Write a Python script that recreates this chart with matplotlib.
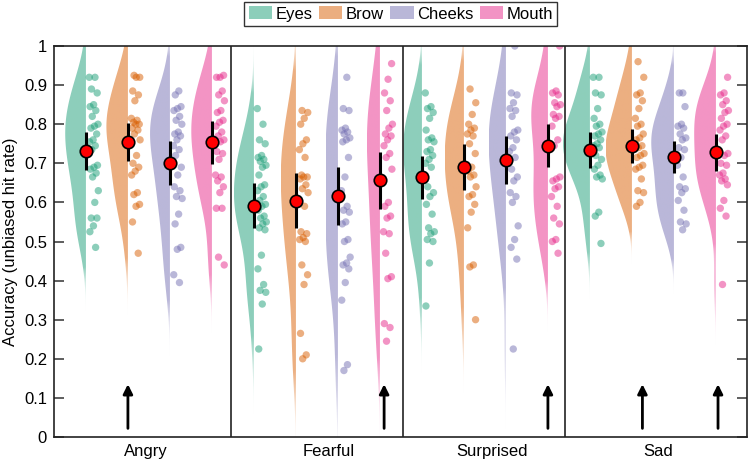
import numpy as np
import matplotlib
matplotlib.use("Agg")
import matplotlib.pyplot as plt
from matplotlib.patches import Polygon, Patch
from matplotlib.colors import to_rgb

plt.rcParams['font.family'] = ['Liberation Sans', 'DejaVu Sans']

# --- DATA ---
emotions = ['Angry', 'Fearful', 'Surprised', 'Sad']
regions = ['Eyes', 'Brow', 'Cheeks', 'Mouth']
colors = ['#1b9e77', '#d95f02', '#7570b3', '#e7298a']

angry = [
    [0.92, 0.92, 0.89, 0.88, 0.85, 0.845, 0.835, 0.82, 0.80, 0.795, 0.79, 0.775, 0.76, 0.755,
     0.745, 0.735, 0.695, 0.69, 0.685, 0.675, 0.665, 0.63, 0.60, 0.56, 0.56, 0.54, 0.525, 0.485],
    [0.925, 0.92, 0.92, 0.885, 0.875, 0.86, 0.815, 0.81, 0.805, 0.80, 0.80, 0.79, 0.785, 0.775,
     0.76, 0.72, 0.70, 0.69, 0.68, 0.67, 0.625, 0.62, 0.595, 0.59, 0.55, 0.47],
    [0.885, 0.875, 0.845, 0.84, 0.835, 0.82, 0.81, 0.80, 0.78, 0.775, 0.77, 0.76, 0.745, 0.735,
     0.72, 0.69, 0.67, 0.64, 0.63, 0.615, 0.61, 0.57, 0.545, 0.485, 0.48, 0.415, 0.395],
    [0.925, 0.92, 0.92, 0.885, 0.875, 0.86, 0.835, 0.83, 0.81, 0.805, 0.795, 0.78, 0.77, 0.76,
     0.755, 0.73, 0.725, 0.71, 0.67, 0.665, 0.655, 0.64, 0.625, 0.585, 0.585, 0.46, 0.44],
]
fearful = [
    [0.84, 0.80, 0.76, 0.75, 0.72, 0.715, 0.71, 0.705, 0.695, 0.69, 0.67, 0.645, 0.64, 0.63,
     0.615, 0.605, 0.595, 0.59, 0.58, 0.565, 0.56, 0.55, 0.545, 0.535, 0.53, 0.465, 0.43,
     0.39, 0.375, 0.37, 0.34, 0.225],
    [0.835, 0.83, 0.815, 0.80, 0.76, 0.75, 0.735, 0.715, 0.67, 0.665, 0.665, 0.66, 0.645, 0.635,
     0.625, 0.59, 0.525, 0.52, 0.51, 0.505, 0.50, 0.44, 0.415, 0.39, 0.265, 0.21, 0.20],
    [0.92, 0.84, 0.835, 0.79, 0.785, 0.78, 0.775, 0.765, 0.76, 0.755, 0.715, 0.665, 0.63, 0.59,
     0.58, 0.575, 0.55, 0.545, 0.505, 0.50, 0.46, 0.445, 0.44, 0.43, 0.395, 0.35, 0.185, 0.17],
    [0.955, 0.915, 0.88, 0.86, 0.835, 0.80, 0.79, 0.775, 0.77, 0.76, 0.745, 0.725, 0.715, 0.685,
     0.60, 0.59, 0.565, 0.56, 0.525, 0.52, 0.47, 0.41, 0.405, 0.29, 0.28, 0.245],
]
surprised = [
    [0.88, 0.845, 0.84, 0.83, 0.815, 0.785, 0.765, 0.76, 0.755, 0.735, 0.73, 0.72, 0.71, 0.70,
     0.69, 0.64, 0.625, 0.615, 0.595, 0.57, 0.535, 0.525, 0.52, 0.505, 0.50, 0.445, 0.335],
    [0.89, 0.855, 0.825, 0.80, 0.79, 0.785, 0.775, 0.77, 0.75, 0.725, 0.69, 0.68, 0.67, 0.665,
     0.64, 0.62, 0.615, 0.595, 0.575, 0.535, 0.44, 0.435, 0.30],
    [1.0, 0.88, 0.875, 0.855, 0.84, 0.835, 0.82, 0.785, 0.78, 0.77, 0.76, 0.74, 0.73, 0.715,
     0.685, 0.665, 0.655, 0.625, 0.615, 0.60, 0.54, 0.505, 0.485, 0.455, 0.225],
    [1.0, 0.885, 0.88, 0.875, 0.855, 0.85, 0.845, 0.825, 0.82, 0.815, 0.795, 0.76, 0.745, 0.665,
     0.66, 0.655, 0.64, 0.635, 0.615, 0.59, 0.56, 0.545, 0.505, 0.50, 0.47],
]
sad = [
    [0.92, 0.92, 0.88, 0.875, 0.84, 0.815, 0.80, 0.795, 0.78, 0.775, 0.77, 0.76, 0.75, 0.745,
     0.74, 0.72, 0.71, 0.695, 0.685, 0.67, 0.665, 0.66, 0.575, 0.565, 0.495],
    [0.96, 0.92, 0.88, 0.875, 0.86, 0.84, 0.815, 0.80, 0.795, 0.775, 0.765, 0.76, 0.745, 0.74,
     0.725, 0.72, 0.715, 0.695, 0.69, 0.685, 0.66, 0.63, 0.625, 0.60, 0.59],
    [0.88, 0.88, 0.845, 0.80, 0.795, 0.79, 0.775, 0.765, 0.76, 0.74, 0.735, 0.715, 0.695, 0.665,
     0.64, 0.635, 0.625, 0.605, 0.58, 0.55, 0.545, 0.53],
    [0.92, 0.88, 0.875, 0.86, 0.85, 0.835, 0.83, 0.815, 0.80, 0.795, 0.785, 0.77, 0.76, 0.725,
     0.72, 0.70, 0.695, 0.675, 0.67, 0.66, 0.655, 0.645, 0.605, 0.585, 0.565, 0.39],
]
all_points = [angry, fearful, surprised, sad]

# group means and error-bar half widths (Eyes, Brow, Cheeks, Mouth)
means = [
    [0.731, 0.755, 0.700, 0.754],
    [0.592, 0.604, 0.617, 0.657],
    [0.664, 0.691, 0.708, 0.745],
    [0.734, 0.744, 0.715, 0.728],
]
errs = [
    [0.049, 0.048, 0.056, 0.055],
    [0.058, 0.070, 0.074, 0.073],
    [0.055, 0.058, 0.062, 0.055],
    [0.045, 0.043, 0.041, 0.048],
]

arrow_x = [2, 8.1, 12, 14.25, 16.05]

# --- LAYOUT ---
VSCALE = 0.18
separators = [4.45, 8.55, 12.4]
label_x = [2.43, 6.79, 10.67, 14.62]


def kde(vals, grid):
    v = np.asarray(vals)
    h = v.std(ddof=1) * (4 / (3 * len(v))) ** 0.2
    z = (grid[:, None] - v[None, :]) / h
    return np.exp(-0.5 * z ** 2).sum(1) / (len(v) * h * np.sqrt(2 * np.pi))


fig = plt.figure(figsize=(7.5, 4.63), dpi=100)
ax = fig.add_axes([0.072, 0.0562, 0.924, 0.8444])

grid = np.linspace(0, 1, 400)
for e in range(4):
    for r in range(4):
        pos = 1 + 4 * e + r
        vals = all_points[e][r]
        col = colors[r]

        # half violin with faded tails
        d = kde(vals, grid)
        w = d * VSCALE
        xy = np.column_stack([np.r_[pos - w, pos, pos], np.r_[grid, 1, 0]])
        poly = Polygon(xy, closed=True, facecolor='none', edgecolor='none',
                       transform=ax.transData)
        ax.add_patch(poly)
        rgba = np.zeros((len(grid), 1, 4))
        rgba[..., :3] = to_rgb(col)
        rgba[:, 0, 3] = 0.5 * np.clip(d / 0.4, 0, 1)
        im = ax.imshow(rgba, extent=[pos - w.max(), pos, 0, 1], origin='lower',
                       aspect='auto', interpolation='bilinear', zorder=1)
        im.set_clip_path(poly)

        # jittered points (deterministic spread)
        idx = np.arange(len(vals))
        off = 0.08 + 0.22 * ((idx * 0.618 + 0.3 * r) % 1)
        ax.scatter(pos + off, vals, s=28, color=col, alpha=0.5,
                   edgecolors='none', zorder=2)

        ax.errorbar(pos, means[e][r], yerr=errs[e][r], fmt='o', color='k',
                    elinewidth=2.2, capsize=0, mfc='red', mec='k', mew=1.2,
                    ms=9, zorder=4)

for x in separators:
    ax.axvline(x, color='#222222', lw=1.2, zorder=3)

for x in arrow_x:
    ax.annotate('', xy=(x, 0.135), xytext=(x, 0.022),
                arrowprops=dict(arrowstyle='-|>', lw=2, color='k',
                                mutation_scale=14, shrinkA=0, shrinkB=0))

ax.set_xlim(0.24, 16.74)
ax.set_ylim(0, 1)
ax.set_yticks(np.arange(0, 1.01, 0.1))
ax.set_yticklabels(['0'] + [f'{v:.1f}' for v in np.arange(0.1, 0.95, 0.1)] + ['1'])
ax.set_xticks(label_x)
ax.set_xticklabels(emotions)
ax.tick_params(axis='x', length=0, pad=5, labelsize=12)
ax.tick_params(axis='y', direction='in', right=True, length=7, width=1.1,
               labelsize=12, pad=5, color='#333333')
for s in ax.spines.values():
    s.set_linewidth(1.2)
    s.set_color('#222222')
ax.set_ylabel('Accuracy (unbiased hit rate)', fontsize=12, labelpad=4)

handles = [Patch(facecolor=c, alpha=0.5, edgecolor='none') for c in colors]
leg = fig.legend(handles, regions, loc='center', bbox_to_anchor=(0.5345, 0.97),
                 ncol=4, fontsize=12, frameon=True, fancybox=False,
                 handlelength=1.4, handleheight=0.85, handletextpad=0.2,
                 columnspacing=0.4, borderpad=0.25, borderaxespad=0)
leg.get_frame().set_edgecolor('k')
leg.get_frame().set_linewidth(1.0)

fig.savefig('out.png', dpi=100)
